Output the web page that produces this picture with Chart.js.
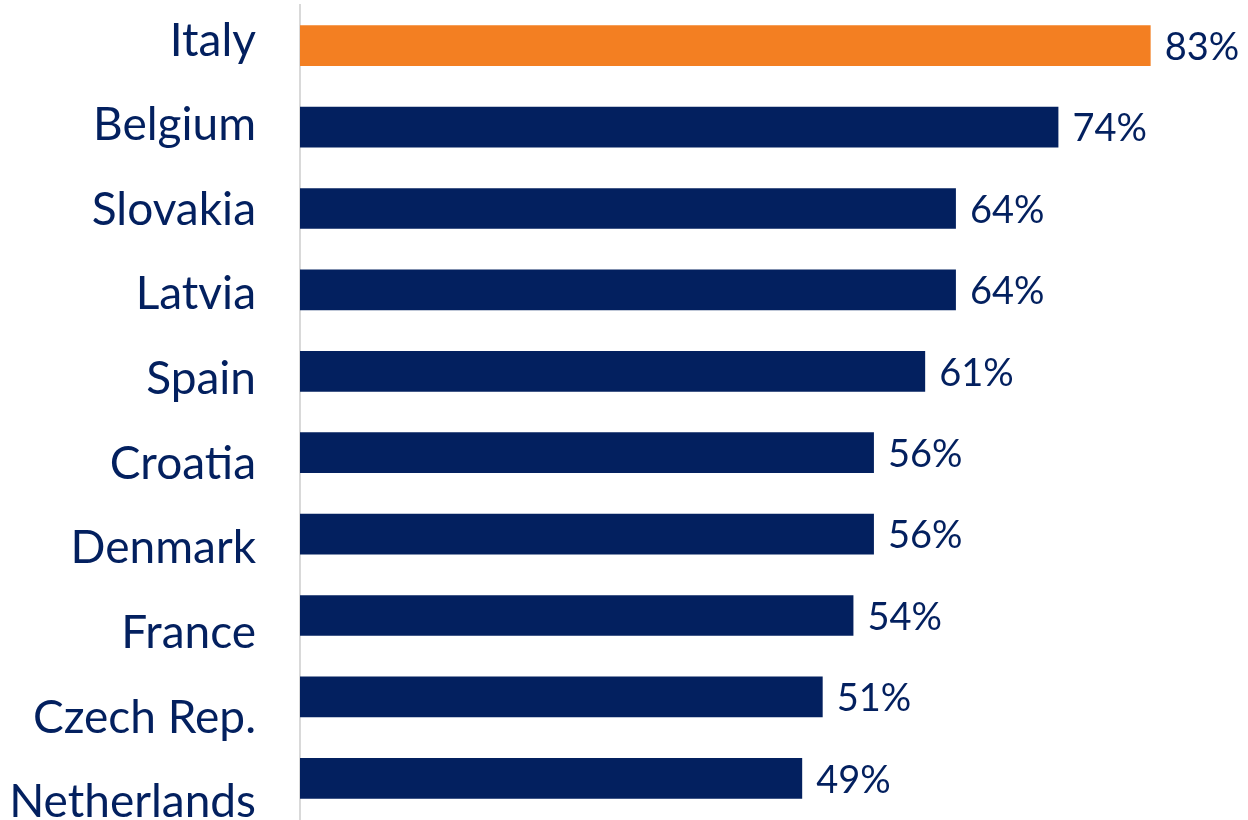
<!DOCTYPE html>
<html>
<head>
<meta charset="utf-8">
<script src="https://cdn.jsdelivr.net/npm/chart.js@4"></script>
<style>
  html, body { margin: 0; padding: 0; background: #fff; }
  #wrap { width: 1248px; height: 820px; position: relative; }
</style>
</head>
<body>
<div id="wrap"><canvas id="myChart"></canvas></div>
<script>
// Data
const countries = ["Italy", "Belgium", "Slovakia", "Latvia", "Spain", "Croatia", "Denmark", "France", "Czech Rep.", "Netherlands"];
const shares = [83, 74, 64, 64, 61, 56, 56, 54, 51, 49];
const highlight = "Italy";

const NAVY = "#03205f";
const ORANGE = "#f37f22";
const FONT = "Lato, 'Noto Sans', sans-serif";

// value labels at the end of each bar
const valueLabels = {
  id: "valueLabels",
  afterDatasetsDraw(chart) {
    const ctx = chart.ctx;
    const meta = chart.getDatasetMeta(0);
    ctx.save();
    ctx.font = "38px " + FONT;
    ctx.fillStyle = NAVY;
    ctx.textAlign = "left";
    ctx.textBaseline = "middle";
    meta.data.forEach((bar, i) => {
      ctx.fillText(shares[i] + "%", bar.x + 14, bar.y + 2);
    });
    ctx.restore();
  }
};

// category labels: in the original they sit on a slightly wider pitch than the bars
const categoryLabels = {
  id: "categoryLabels",
  afterDraw(chart) {
    const ctx = chart.ctx;
    const y = chart.scales.y;
    const y0 = y.getPixelForTick(0);
    ctx.save();
    ctx.font = "46px " + FONT;
    ctx.fillStyle = NAVY;
    ctx.textAlign = "right";
    ctx.textBaseline = "middle";
    y.ticks.forEach((t, i) => {
      const py = y0 - 5 + (y.getPixelForTick(i) - y0) * 1.04;
      ctx.fillText(y.getLabelForValue(t.value), y.right - 44, py);
    });
    ctx.restore();
  }
};

let ctx = document.getElementById("myChart").getContext("2d");
let myChart = new Chart(ctx, {
  type: "bar",
  data: {
    labels: countries,
    datasets: [{
      data: shares,
      backgroundColor: countries.map(c => c === highlight ? ORANGE : NAVY),
      borderWidth: 0,
      barPercentage: 0.5,
      categoryPercentage: 1
    }]
  },
  options: {
    indexAxis: "y",
    responsive: true,
    maintainAspectRatio: false,
    animation: false,
    layout: { padding: { top: 5, bottom: 1, left: 0, right: 0 } },
    plugins: {
      legend: { display: false },
      tooltip: { enabled: false }
    },
    scales: {
      x: {
        display: false,
        min: 0,
        max: 92.5
      },
      y: {
        afterFit(scale) {
          scale.width = 300;
          scale.paddingTop = 0;
          scale.paddingBottom = 0;
        },
        grid: { display: false, drawTicks: false },
        border: { display: true, color: "#d9d9d9", width: 2 },
        ticks: { display: false }
      }
    }
  },
  plugins: [valueLabels, categoryLabels]
});
</script>
</body>
</html>
